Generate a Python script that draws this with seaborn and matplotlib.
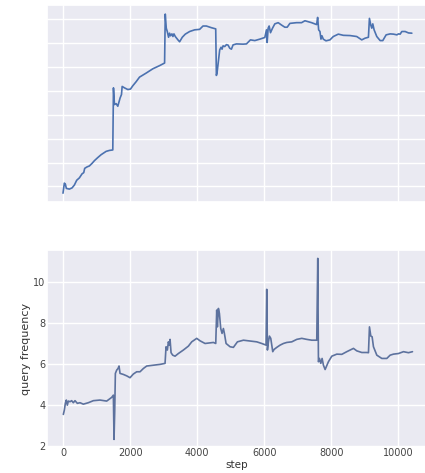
import numpy as np
import pandas as pd
import matplotlib
matplotlib.use("Agg")
import matplotlib.pyplot as plt
import seaborn as sns

sns.set_theme(style="darkgrid")

# top panel (the original shows no tick labels here), (step, value)
top_points = [
    (0, 0.72), (40, 1.14), (70, 1.10), (100, 0.92), (189, 0.89), (269, 0.94), (339, 1.06),
    (408, 1.26), (488, 1.36), (568, 1.53), (618, 1.58), (647, 1.76), (717, 1.82), (787, 1.86),
    (867, 1.97), (936, 2.08), (1036, 2.21), (1135, 2.33), (1285, 2.47), (1384, 2.51),
    (1484, 2.53), (1504, 5.13), (1534, 4.43), (1584, 4.47), (1633, 4.36), (1703, 4.71),
    (1743, 4.85), (1763, 5.19), (1833, 5.13), (1932, 5.06), (2012, 5.08), (2082, 5.22),
    (2181, 5.39), (2281, 5.58), (2480, 5.75), (2679, 5.93), (2878, 6.06), (3028, 6.17),
    (3048, 8.22), (3078, 7.63), (3108, 7.49), (3147, 7.25), (3177, 7.42), (3207, 7.31),
    (3247, 7.39), (3277, 7.28), (3307, 7.39), (3347, 7.28), (3426, 7.14), (3476, 7.06),
    (3556, 7.25), (3645, 7.38), (3775, 7.49), (3924, 7.56), (4073, 7.58), (4173, 7.72),
    (4273, 7.72), (4422, 7.65), (4552, 7.60), (4572, 5.65), (4591, 5.75), (4671, 6.72),
    (4711, 6.83), (4741, 6.75), (4771, 6.89), (4821, 6.86), (4871, 6.94), (4920, 6.92),
    (4970, 6.79), (5020, 6.75), (5069, 6.93), (5169, 6.97), (5368, 6.96), (5468, 6.97),
    (5587, 7.14), (5717, 7.11), (5866, 7.17), (6016, 7.24), (6065, 7.56), (6085, 7.03),
    (6115, 7.63), (6145, 7.72), (6185, 7.44), (6245, 7.63), (6314, 7.81), (6414, 7.86),
    (6514, 7.76), (6613, 7.67), (6683, 7.67), (6763, 7.83), (6962, 7.86), (7111, 7.86),
    (7211, 7.94), (7410, 7.86), (7560, 7.78), (7590, 8.08), (7620, 7.56), (7659, 7.49),
    (7689, 7.17), (7719, 7.31), (7759, 7.17), (7839, 7.10), (7958, 7.14), (8058, 7.28),
    (8207, 7.38), (8357, 7.33), (8556, 7.32), (8755, 7.28), (8905, 7.14), (9004, 7.21),
    (9104, 7.25), (9134, 8.04), (9174, 7.76), (9204, 7.63), (9234, 7.81), (9273, 7.56),
    (9353, 7.28), (9453, 7.11), (9532, 7.11), (9632, 7.35), (9751, 7.39), (9851, 7.38),
    (9951, 7.35), (10001, 7.39), (10050, 7.38), (10100, 7.49), (10199, 7.49), (10299, 7.43),
    (10398, 7.42),
]

# bottom panel: query frequency, (step, value)
bot_points = [
    (10, 3.53), (40, 3.74), (70, 4.07), (99, 4.23), (129, 3.98), (159, 4.18), (209, 4.15),
    (258, 4.20), (308, 4.10), (358, 4.20), (427, 4.07), (507, 4.10), (606, 4.03), (755, 4.10),
    (905, 4.20), (1103, 4.23), (1302, 4.18), (1451, 4.36), (1501, 4.47), (1521, 2.31),
    (1541, 3.66), (1561, 5.53), (1600, 5.69), (1640, 5.77), (1670, 5.89), (1700, 5.53),
    (1799, 5.48), (1899, 5.41), (1998, 5.32), (2097, 5.50), (2197, 5.61), (2296, 5.61),
    (2396, 5.77), (2495, 5.89), (2694, 5.93), (2893, 5.97), (3042, 6.02), (3071, 6.83),
    (3111, 6.67), (3141, 7.07), (3171, 6.91), (3191, 7.19), (3221, 6.54), (3270, 6.42),
    (3340, 6.37), (3439, 6.50), (3588, 6.67), (3737, 6.86), (3837, 7.07), (3986, 7.24),
    (4085, 7.12), (4234, 6.99), (4483, 7.04), (4553, 6.99), (4582, 8.62), (4602, 7.80),
    (4632, 8.70), (4662, 8.46), (4702, 7.72), (4741, 7.48), (4781, 7.72), (4811, 7.48),
    (4861, 6.99), (4980, 6.83), (5079, 6.80), (5199, 7.07), (5378, 7.15), (5576, 7.11),
    (5775, 7.07), (5924, 6.99), (6053, 6.91), (6073, 9.63), (6093, 6.67), (6123, 7.07),
    (6153, 7.35), (6193, 7.24), (6252, 6.59), (6292, 6.70), (6372, 6.80), (6471, 6.91),
    (6570, 6.99), (6670, 7.04), (6819, 7.07), (6968, 7.19), (7117, 7.24), (7266, 7.19),
    (7415, 7.15), (7564, 7.15), (7594, 11.14), (7614, 6.10), (7644, 6.26), (7684, 6.02),
    (7723, 6.26), (7763, 5.93), (7813, 5.72), (7912, 6.10), (8012, 6.37), (8161, 6.47),
    (8310, 6.46), (8459, 6.59), (8658, 6.75), (8757, 6.63), (8906, 6.55), (9055, 6.55),
    (9105, 6.54), (9135, 7.80), (9175, 7.35), (9214, 7.32), (9254, 6.83), (9354, 6.42),
    (9503, 6.26), (9652, 6.26), (9751, 6.42), (9851, 6.47), (10000, 6.50), (10149, 6.59),
    (10298, 6.54), (10417, 6.59),
]

top_df = pd.DataFrame(top_points, columns=["step", "value"])
bot_df = pd.DataFrame(bot_points, columns=["step", "query frequency"])

fig = plt.figure(figsize=(4.25, 4.73), dpi=100)
ax1 = fig.add_axes([47 / 425, 1 - 202 / 473, 380 / 425, 197 / 473])
ax2 = fig.add_axes([47 / 425, 1 - 447 / 473, 380 / 425, 197 / 473], sharex=ax1)

sns.lineplot(data=top_df, x="step", y="value", ax=ax1, color="#4c72b0", linewidth=1.2, sort=False)
sns.lineplot(data=bot_df, x="step", y="query frequency", ax=ax2, color="#5d729e",
             linewidth=1.2, sort=False)

ax1.set_xlim(-477, 10850)
ax1.set_ylim(0.35, 8.6)
ax1.set_yticks(np.arange(1, 9))
ax1.set_xticks(np.arange(0, 10001, 2000))
ax1.tick_params(labelbottom=False, labelleft=False)
ax1.set_xlabel("")
ax1.set_ylabel("")

ax2.set_ylim(1.94, 11.55)
ax2.set_yticks([2, 4, 6, 8, 10])
ax2.tick_params(labelsize=7, colors="#444444", pad=1, length=0)
ax2.set_xlabel("step", fontsize=7.5, color="#333333")
ax2.xaxis.set_label_coords(0.5, -0.068)
ax2.set_ylabel("query frequency", fontsize=8, color="#333333",
               family=["Liberation Sans Narrow", "DejaVu Sans"], labelpad=2)

fig.savefig("out.png", dpi=100)
